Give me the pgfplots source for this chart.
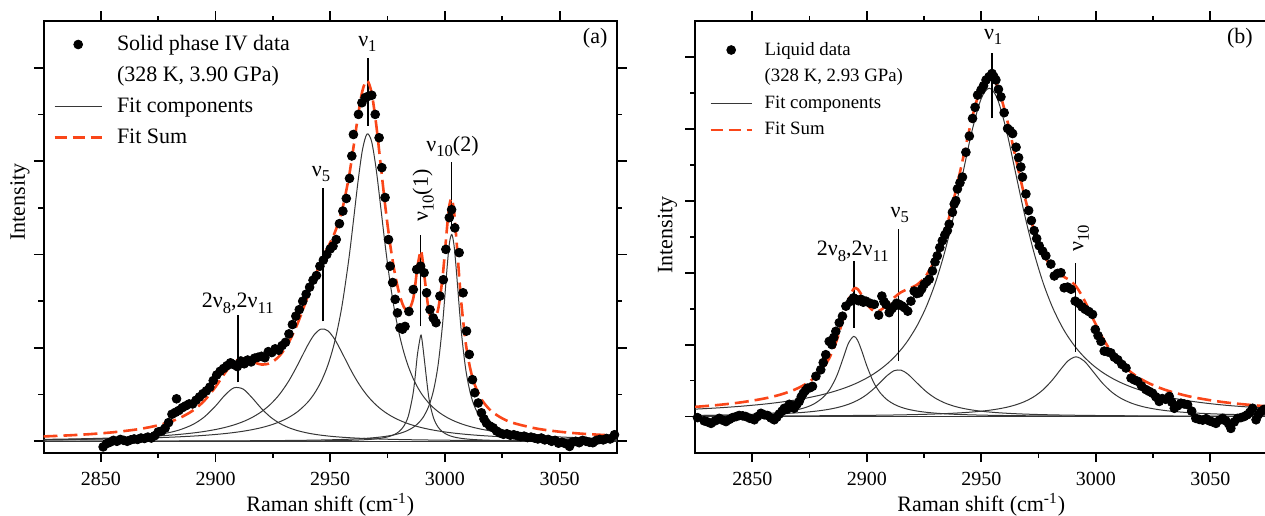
\documentclass[border=0pt]{standalone}
\usepackage{fontspec}
\setmainfont{Liberation Serif}
\usepackage{pgfplots}
\usepackage{pgfplotstable}
\pgfplotsset{compat=1.18}
\definecolor{fitred}{RGB}{250,70,25}
\definecolor{comp}{RGB}{55,55,55}
\newcommand{\lbl}{\fontsize{11}{13}\selectfont}
\newcommand{\sub}[1]{\raisebox{-0.55ex}{\fontsize{8.3}{9}\selectfont #1}}

% panel (a) fit: x, components c1..c5, sum
\pgfplotstableread{
x c1 c2 c3 c4 c5 s
2825 0.0268 0.0409 0.0328 0.0008 0.0028 0.1040
2835 0.0343 0.0484 0.0379 0.0009 0.0032 0.1247
2845 0.0453 0.0581 0.0444 0.0010 0.0036 0.1524
2855 0.0625 0.0711 0.0527 0.0011 0.0041 0.1915
2865 0.0912 0.0888 0.0635 0.0013 0.0047 0.2495
2872 0.1245 0.1054 0.0731 0.0015 0.0052 0.3097
2878 0.1689 0.1237 0.0833 0.0016 0.0057 0.3832
2884 0.2394 0.1469 0.0956 0.0018 0.0063 0.4900
2890 0.3569 0.1772 0.1110 0.0021 0.0070 0.6542
2895 0.5169 0.2099 0.1268 0.0023 0.0077 0.8636
2900 0.7562 0.2523 0.1462 0.0025 0.0085 1.1657
2904 0.9839 0.2955 0.1650 0.0028 0.0092 1.4564
2908 1.1448 0.3503 0.1877 0.0031 0.0100 1.6959
2912 1.1186 0.4206 0.2154 0.0034 0.0109 1.7689
2916 0.9280 0.5122 0.2496 0.0038 0.0119 1.7055
2920 0.7020 0.6333 0.2925 0.0042 0.0130 1.6450
2924 0.5169 0.7953 0.3472 0.0047 0.0144 1.6785
2928 0.3835 1.0124 0.4185 0.0054 0.0160 1.8358
2932 0.2903 1.2988 0.5135 0.0062 0.0178 2.1266
2936 0.2250 1.6558 0.6434 0.0071 0.0200 2.5513
2940 0.1783 2.0413 0.8269 0.0083 0.0226 3.0774
2943 0.1518 2.2813 1.0176 0.0094 0.0249 3.4850
2946 0.1306 2.4040 1.2766 0.0108 0.0277 3.8497
2949 0.1134 2.3653 1.6360 0.0124 0.0308 4.1580
2952 0.0993 2.1798 2.1437 0.0144 0.0345 4.4717
2955 0.0876 1.9087 2.8652 0.0170 0.0389 4.9174
2958 0.0778 1.6174 3.8637 0.0204 0.0440 5.6233
2960 0.0721 1.4340 4.6750 0.0233 0.0487 6.2531
2962 0.0670 1.2669 5.5211 0.0268 0.0530 6.9348
2964 0.0625 1.1181 6.2311 0.0311 0.0585 7.5013
2966 0.0583 0.9878 6.5795 0.0365 0.0649 7.7270
2968 0.0546 0.8746 6.4255 0.0436 0.0724 7.4707
2970 0.0512 0.7768 5.8341 0.0528 0.0814 6.7963
2972 0.0481 0.6924 5.0169 0.0652 0.0920 5.9146
2974 0.0453 0.6196 4.1774 0.0826 0.1049 5.0298
2976 0.0427 0.5565 3.4295 0.1078 0.1205 4.2570
2978 0.0403 0.5018 2.8094 0.1463 0.1401 3.6379
2980 0.0382 0.4543 2.3124 0.2089 0.1647 3.1785
2982 0.0361 0.4127 1.9190 0.3190 0.1963 2.8831
2984 0.0343 0.3762 1.6080 0.5330 0.2377 2.7892
2986 0.0326 0.3442 1.3609 0.9893 0.2933 3.0203
2987 0.0318 0.3296 1.2567 1.3781 0.3285 3.3247
2988 0.0311 0.3159 1.1631 1.8559 0.3703 3.7363
2989.4 0.0299 0.2979 1.0477 2.2600 0.4430 4.0785
2990 0.0296 0.2908 1.0030 2.1730 0.4806 3.9770
2991 0.0288 0.2792 0.9345 1.7595 0.5543 3.5563
2993 0.0275 0.2581 0.8160 0.9262 0.7586 2.7864
2995 0.0262 0.2392 0.7179 0.5040 1.0853 2.5726
2997 0.0250 0.2222 0.6359 0.3047 1.6293 2.8171
2999 0.0239 0.2070 0.5667 0.2011 2.5298 3.5285
3001 0.0230 0.1932 0.5081 0.1417 3.7597 4.6257
3002 0.0225 0.1868 0.4819 0.1212 4.2594 5.0718
3003 0.0220 0.1807 0.4578 0.1048 4.4289 5.1942
3004 0.0216 0.1749 0.4353 0.0915 4.1802 4.9035
3005 0.0211 0.1694 0.4145 0.0806 3.6378 4.3234
3007 0.0202 0.1590 0.3769 0.0638 2.4206 3.0405
3009 0.0194 0.1496 0.3442 0.0518 1.5612 2.1262
3011 0.0186 0.1409 0.3155 0.0428 1.0448 1.5626
3013 0.0179 0.1330 0.2901 0.0359 0.7338 1.2107
3016 0.0170 0.1223 0.2574 0.0284 0.4676 0.8927
3020 0.0158 0.1099 0.2217 0.0216 0.2869 0.6559
3025 0.0145 0.0968 0.1865 0.0160 0.1764 0.4902
3030 0.0133 0.0859 0.1590 0.0123 0.1189 0.3894
3040 0.0114 0.0690 0.1195 0.0079 0.0642 0.2720
3050 0.0098 0.0566 0.0930 0.0055 0.0401 0.2050
3060 0.0086 0.0472 0.0744 0.0041 0.0273 0.1616
3075 0.0071 0.0370 0.0554 0.0028 0.0172 0.1195
}\fitA

% panel (a) data points
\pgfplotstableread{
x y
2851 -0.12
2852.5 -0.05
2854 -0.02
2855.5 0.02
2857 0.00
2858.5 0.04
2860 0.02
2861.5 0.00
2863 0.03
2864.5 0.05
2866 0.04
2867.5 0.07
2869 0.06
2870.5 0.09
2872 0.07
2873.5 0.12
2875 0.20
2876.5 0.22
2878 0.28
2879.5 0.40
2881 0.58
2882.5 0.62
2883 0.91
2884 0.66
2885.5 0.72
2887 0.76
2888.5 0.80
2890 0.80
2891.5 0.88
2893 0.95
2894.5 1.02
2896 1.08
2897.5 1.16
2899 1.30
2900.5 1.42
2902 1.50
2903.5 1.56
2905 1.62
2906.5 1.68
2908 1.64
2909.5 1.60
2911 1.72
2912.5 1.66
2914 1.74
2915.5 1.70
2917 1.78
2918.5 1.80
2920 1.82
2921.5 1.79
2923 1.92
2924.5 1.90
2926 1.98
2927.5 1.95
2929 2.05
2930.5 2.12
2932 2.30
2933.5 2.50
2935 2.68
2936.5 2.82
2938 3.00
2939.5 3.15
2941 3.30
2942.5 3.45
2944 3.55
2945.5 3.75
2947 3.88
2948.5 4.00
2950 4.12
2951.2 4.18
2952.6 4.32
2954 4.66
2955.5 4.93
2957 5.20
2958.4 5.63
2959.4 6.11
2960.1 6.57
2962.3 7.00
2963.8 7.25
2965.2 7.36
2966.7 7.39
2968.1 7.41
2969.6 7.00
2971.3 6.50
2972.5 5.86
2973.9 5.22
2975.4 4.32
2976.1 3.75
2977.2 3.40
2978.3 3.04
2979.3 2.75
2980.4 2.43
2981.5 2.40
2982.6 2.46
2984.3 2.78
2986.2 3.25
2987.7 3.68
2989.4 3.75
2990.9 3.61
2992 3.18
2993.5 2.82
2994.9 2.64
2996.1 2.54
2997.8 3.11
2999.3 3.46
3000.4 4.11
3001.9 4.79
3002.9 4.96
3004.3 4.57
3006.2 4.04
3007.9 3.18
3009.4 2.36
3010.6 1.86
3012 1.32
3013 1.04
3014.5 0.82
3015.9 0.61
3017 0.48
3018.1 0.39
3019.5 0.33
3021 0.29
3022.5 0.22
3023.9 0.18
3025.5 0.15
3027 0.16
3028.5 0.13
3030 0.14
3031.5 0.12
3033 0.10
3034.5 0.11
3036 0.08
3037.5 0.09
3039 0.07
3040.5 0.05
3042 0.07
3043.5 0.03
3045 0.04
3046.5 0.00
3048 0.02
3049.5 -0.04
3051 -0.02
3052.5 -0.05
3054.3 -0.11
3055.5 -0.02
3057 0.00
3058.5 -0.03
3060 0.02
3061.5 0.00
3063 -0.02
3064.5 -0.03
3066 0.02
3067.5 0.04
3069 0.03
3070.5 0.06
3072 0.05
3073.9 0.14
}\datA

% panel (b) fit: x, components d1..d4, sum
\pgfplotstableread{
x d1 d2 d3 d4 s
2825 0.0258 0.0273 0.2055 0.0101 0.2687
2835 0.0351 0.0344 0.2407 0.0114 0.3216
2845 0.0504 0.0448 0.2857 0.0130 0.3939
2855 0.0784 0.0606 0.3443 0.0149 0.4982
2862 0.1141 0.0770 0.3967 0.0166 0.6044
2868 0.1677 0.0969 0.4515 0.0182 0.7343
2873 0.2460 0.1198 0.5061 0.0198 0.8917
2877 0.3529 0.1442 0.5571 0.0212 1.0754
2881 0.5381 0.1765 0.6160 0.0227 1.3533
2884 0.7729 0.2078 0.6663 0.0240 1.6710
2887 1.1451 0.2476 0.7230 0.0253 2.1410
2890 1.6784 0.2987 0.7869 0.0268 2.7908
2892 2.0384 0.3410 0.8341 0.0279 3.2414
2894.3 2.2300 0.4000 0.8936 0.0292 3.5528
2896 2.1210 0.4522 0.9419 0.0303 3.5454
2898 1.7935 0.5248 1.0034 0.0315 3.3532
2900 1.4136 0.6113 1.0708 0.0329 3.1286
2903 0.9507 0.7692 1.1849 0.0351 2.9399
2906 0.6496 0.9559 1.3170 0.0376 2.9601
2909 0.4607 1.1440 1.4710 0.0403 3.1160
2912 0.3395 1.2755 1.6516 0.0433 3.3099
2915 0.2588 1.2890 1.8645 0.0467 3.4590
2918 0.2030 1.1771 2.1169 0.0505 3.5475
2922 0.1523 0.9300 2.5295 0.0563 3.6681
2926 0.1182 0.6913 3.0547 0.0631 3.9273
2930 0.0943 0.5093 3.7230 0.0712 4.3978
2934 0.0769 0.3808 4.5650 0.0810 5.1037
2938 0.0638 0.2911 5.5950 0.0929 6.0428
2942 0.0538 0.2279 6.7740 0.1075 7.1632
2946 0.0460 0.1822 7.9535 0.1258 8.3075
2950 0.0397 0.1485 8.8450 0.1490 9.1822
2953.5 0.0352 0.1259 9.1300 0.1748 9.4659
2957 0.0315 0.1080 8.8450 0.2075 9.1920
2961 0.0278 0.0917 7.9535 0.2566 8.3296
2965 0.0249 0.0787 6.7740 0.3240 7.2016
2969 0.0223 0.0683 5.5950 0.4182 6.1038
2973 0.0200 0.0598 4.5650 0.5527 5.1975
2977 0.0182 0.0528 3.7230 0.7453 4.5393
2981 0.0166 0.0469 3.0547 1.0120 4.1302
2985 0.0152 0.0419 2.5295 1.3362 3.9228
2988 0.0142 0.0387 2.2106 1.5537 3.8172
2991.4 0.0132 0.0355 1.9110 1.6600 3.6197
2995 0.0124 0.0325 1.6516 1.5418 3.2383
2999 0.0114 0.0296 1.4170 1.2372 2.6952
3003 0.0106 0.0270 1.2267 0.9242 2.1885
3007 0.0099 0.0248 1.0708 0.6803 1.7858
3011 0.0092 0.0228 0.9419 0.5071 1.4810
3016 0.0085 0.0207 0.8100 0.3624 1.2016
3022 0.0077 0.0185 0.6845 0.2538 0.9645
3030 0.0068 0.0161 0.5571 0.1691 0.7491
3040 0.0059 0.0137 0.4416 0.1108 0.5720
3050 0.0052 0.0117 0.3582 0.0779 0.4530
3060 0.0046 0.0102 0.2962 0.0575 0.3685
3075 0.0038 0.0084 0.2293 0.0392 0.2807
}\fitB

% panel (b) data points
\pgfplotstableread{
x y
2826.1 -0.03
2829 -0.12
2830.5 -0.15
2832 -0.19
2833.8 -0.12
2835.6 -0.05
2837 -0.10
2838.5 -0.14
2840 -0.08
2841.4 -0.03
2843 0.00
2844.3 0.03
2845.8 0.02
2847.2 0.00
2849 -0.05
2850.9 -0.09
2852.3 0.00
2853.8 0.09
2855.2 0.05
2856.7 0.03
2858.2 -0.04
2859.6 -0.09
2860.7 -0.02
2861.8 0.07
2863 0.15
2864 0.23
2865.1 0.20
2866.2 0.34
2867.3 0.28
2868.3 0.23
2869.4 0.33
2870.5 0.42
2871.4 0.55
2872.3 0.65
2873.2 0.72
2874.1 0.79
2875.2 0.80
2876.3 0.84
2877.8 1.12
2879.9 1.30
2881 1.50
2882.1 1.72
2883.6 2.09
2884.8 2.00
2885.6 2.20
2886.5 2.37
2888 2.61
2889.4 2.79
2890.9 3.07
2893.1 3.21
2894.2 3.30
2895.3 3.26
2896.4 3.22
2897.5 3.26
2898.5 3.18
2899.6 3.21
2901.5 3.15
2903.3 3.12
2905.2 2.82
2906.6 3.35
2907.5 3.20
2908.4 3.12
2909.8 2.89
2911 3.00
2912 3.07
2913 3.15
2914.2 3.12
2915.3 3.08
2916.4 3.03
2917.9 2.93
2919.3 3.21
2920.7 3.49
2921.8 3.42
2922.9 3.44
2924 3.55
2925.1 3.68
2926.2 3.75
2927.3 3.82
2928.7 4.05
2929.8 4.30
2930.8 4.47
2931.9 4.70
2933 4.89
2934.1 5.05
2935.2 5.17
2936 5.35
2937.4 5.68
2938.2 5.91
2938.9 6.00
2939.6 6.33
2940.7 6.50
2941.8 6.66
2943.3 7.35
2944.8 7.80
2946.2 8.29
2947.3 8.60
2948.4 8.94
2949.9 9.08
2951 9.20
2952.1 9.36
2953.4 9.45
2954.7 9.54
2955.5 9.45
2956.4 9.36
2957.5 9.10
2958.6 8.89
2960 8.45
2961.5 8.01
2962.6 7.95
2963.7 7.87
2965.2 7.49
2966.3 7.20
2967.3 6.94
2968 6.66
2969.5 6.19
2970.7 5.73
2971.9 5.45
2973.1 5.17
2974.2 4.95
2975.3 4.75
2976.8 4.60
2978.2 4.47
2980.4 4.24
2981.9 3.91
2983.3 3.98
2984.8 4.00
2986.2 3.58
2987.7 3.60
2989.2 3.54
2991 3.21
2992.5 3.15
2994 3.05
2995.4 2.98
2997 2.92
2998.6 2.84
2999.8 2.42
3001 2.25
3002.3 2.09
3003.7 1.82
3005.2 1.80
3006.6 1.77
3008.1 1.65
3009.6 1.58
3011.4 1.45
3013.2 1.35
3015.4 1.07
3016.8 1.02
3018.3 0.98
3020 0.85
3021.9 0.75
3023.3 0.70
3024.8 0.65
3026.2 0.55
3027.7 0.42
3029 0.50
3030.5 0.48
3032.1 0.56
3033.2 0.40
3034.3 0.23
3035.8 0.30
3037.2 0.37
3038.6 0.35
3040.1 0.33
3041.9 0.15
3043.7 -0.05
3045.2 -0.08
3046.7 -0.10
3048.2 -0.06
3049.6 -0.12
3051 -0.15
3052.5 -0.19
3054 -0.10
3055.4 -0.05
3056.8 -0.12
3058 -0.20
3059 -0.33
3060.5 -0.15
3061.9 -0.05
3063.4 -0.03
3064.8 0.00
3066.2 0.05
3067.3 0.12
3068.5 0.23
3070 -0.09
3071 0.05
3072.2 0.14
3073.5 0.20
}\datB

\pgfplotsset{
  ramanaxis/.style={
    scale only axis, height=215.75pt,
    xmin=2825, xmax=3075,
    xtick={2850,2900,2950,3000,3050}, minor x tick num=1,
    tick align=outside, tick pos=both,
    major tick length=4.8pt, minor tick length=2.5pt,
    tick style={black, line width=0.9pt},
    axis line style={line width=1pt},
    yticklabels={},
    xticklabel style={font=\fontsize{10}{12}\selectfont, yshift=-1.6pt},
    /pgf/number format/assume math mode=true,
    /pgf/number format/1000 sep={},
    label style={font=\lbl},
    legend cell align=left,
  },
  compline/.style={comp, line width=0.5pt, smooth},
  sumline/.style={fitred, line width=1.3pt, dash pattern=on 7pt off 3pt, smooth},
  dots/.style={only marks, mark=*, mark size=2.2pt, black, mark options={fill=black}},
  markline/.style={black, line width=0.8pt},
  legLineA/.style={legend image code/.code={\draw[##1] (0pt,0pt) -- (23.5pt,0pt);}},
  legDotA/.style={legend image code/.code={\draw[##1] plot coordinates {(11.75pt,0pt)};}},
  legLineB/.style={legend image code/.code={\draw[##1] (0pt,0pt) -- (20.5pt,0pt);}},
  legDotB/.style={legend image code/.code={\draw[##1] plot coordinates {(10.25pt,0pt)};}},
}

\begin{document}
\begin{tikzpicture}
\useasboundingbox (0,0) rectangle (632.5pt,257.5pt);

% ---------------- panel (a) ----------------
\begin{axis}[ramanaxis,
  at={(21.75pt,31.25pt)}, anchor=south west, width=286.75pt,
  ymin=-0.24, ymax=9, ytick={0,2,4,6,8}, minor ytick={1,3,5,7},
  xlabel={Raman shift (cm\textsuperscript{-1})},
  ylabel={Intensity},
  xlabel style={at={(axis description cs:0.5,-0.1205)}, anchor=center},
  ylabel style={at={(axis description cs:-0.041,0.5805)}, anchor=center},
  legend style={at={(axis description cs:0,1)}, anchor=north west,
    xshift=4.75pt, yshift=-6.3pt, draw=none, fill=none, inner sep=0pt,
    font=\lbl, row sep=5pt, column sep=7pt,
    nodes={inner sep=0pt, text height=8pt, text depth=2.5pt}},
]
\addlegendimage{dots, legDotA}
\addlegendimage{empty legend}
\addlegendimage{comp, line width=0.5pt, legLineA}
\addlegendimage{fitred, line width=1.3pt, dash pattern=on 6pt off 3pt, legLineA}
\legend{Solid phase IV data, {(328 K, 3.90 GPa)}, Fit components, Fit Sum}

\addplot[compline] coordinates {(2825,0) (3075,0)};
\addplot[compline] table[x=x,y=c1]{\fitA};
\addplot[compline] table[x=x,y=c2]{\fitA};
\addplot[compline] table[x=x,y=c3]{\fitA};
\addplot[compline] table[x=x,y=c4]{\fitA};
\addplot[compline] table[x=x,y=c5]{\fitA};

\addplot[markline] coordinates {(2909.7,1.26) (2909.7,2.71)};
\addplot[markline] coordinates {(2946.8,2.57) (2946.8,5.43)};
\addplot[markline] coordinates {(2966.4,6.76) (2966.4,8.21)};
\addplot[markline] coordinates {(2989.4,2.46) (2989.4,4.41)};
\addplot[markline] coordinates {(3002.9,4.60) (3002.9,5.99)};

\addplot[dots] table[x=x,y=y]{\datA};
\addplot[sumline] table[x=x,y=s]{\fitA};

\node[font=\lbl, anchor=base] at (axis cs:2909.7,2.86) {2ν\sub{8},2ν\sub{11}};
\node[font=\lbl, anchor=base] at (axis cs:2946.0,5.68) {ν\sub{5}};
\node[font=\lbl, anchor=base] at (axis cs:2966.2,8.46) {ν\sub{1}};
\node[font=\lbl, anchor=base] at (axis cs:3003.3,6.21) {ν\sub{10}(2)};
\node[font=\lbl, rotate=90, anchor=base west] at (axis cs:2992.6,4.55) {ν\sub{10}(1)};
\node[font=\lbl, anchor=base east] at (axis cs:3073.9,8.52) {(a)};
\end{axis}

% ---------------- panel (b) ----------------
\begin{axis}[ramanaxis,
  at={(347.5pt,31.25pt)}, anchor=south west, width=286.25pt,
  ymin=-1, ymax=11, ytick={0,2,4,6,8,10}, minor ytick={1,3,5,7,9},
  xlabel={Raman shift (cm\textsuperscript{-1})},
  ylabel={Intensity},
  xlabel style={at={(axis description cs:0.5,-0.1205)}, anchor=center},
  ylabel style={at={(axis description cs:-0.048,0.504)}, anchor=center},
  legend style={at={(axis description cs:0,1)}, anchor=north west,
    xshift=7pt, yshift=-9.8pt, draw=none, fill=none, inner sep=0pt,
    font=\fontsize{9.4}{11}\selectfont, row sep=4.3pt, column sep=5.8pt,
    nodes={inner sep=0pt, text height=7pt, text depth=2pt}},
]
\addlegendimage{dots, legDotB}
\addlegendimage{empty legend}
\addlegendimage{comp, line width=0.5pt, legLineB}
\addlegendimage{fitred, line width=1.3pt, dash pattern=on 6pt off 3pt, legLineB}
\legend{Liquid data, {(328 K, 2.93 GPa)}, Fit components, Fit Sum}

\addplot[compline] coordinates {(2825,0) (3075,0)};
\addplot[compline] table[x=x,y=d1]{\fitB};
\addplot[compline] table[x=x,y=d2]{\fitB};
\addplot[compline] table[x=x,y=d3]{\fitB};
\addplot[compline] table[x=x,y=d4]{\fitB};

\addplot[markline] coordinates {(2894.3,2.47) (2894.3,4.33)};
\addplot[markline] coordinates {(2913.8,1.54) (2913.8,5.21)};
\addplot[markline] coordinates {(2954.7,8.29) (2954.7,10.1)};
\addplot[markline] coordinates {(2991.2,1.80) (2991.2,4.28)};

\addplot[dots] table[x=x,y=y]{\datB};
\addplot[sumline] table[x=x,y=s]{\fitB};

\node[font=\lbl, anchor=base] at (axis cs:2893.9,4.47) {2ν\sub{8},2ν\sub{11}};
\node[font=\lbl, anchor=base] at (axis cs:2914.4,5.54) {ν\sub{5}};
\node[font=\lbl, anchor=base] at (axis cs:2955.2,10.49) {ν\sub{1}};
\node[font=\lbl, rotate=90, anchor=base west] at (axis cs:2994.6,4.40) {ν\sub{10}};
\node[font=\lbl, anchor=base east] at (axis cs:3071.6,10.38) {(b)};
\end{axis}
\end{tikzpicture}
\end{document}
